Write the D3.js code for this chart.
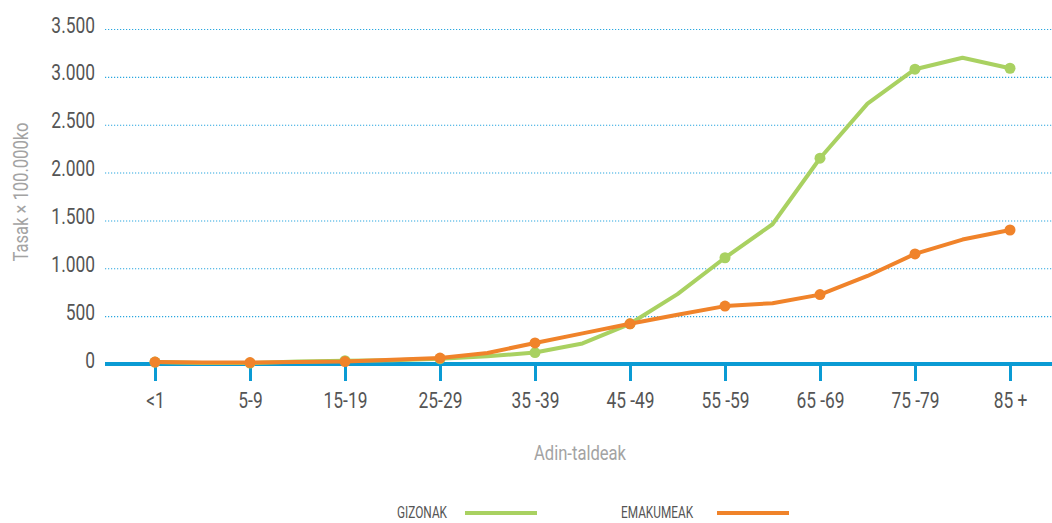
<!DOCTYPE html>
<html>
<head>
<meta charset="utf-8">
<script src="https://cdn.jsdelivr.net/npm/d3@7"></script>
<style>
  html, body { margin: 0; padding: 0; background: #fff; }
  svg { display: block; }
  text { font-family: Roboto, "Liberation Sans", sans-serif; }
</style>
</head>
<body>
<svg id="chart" width="1052" height="523"></svg>
<script>
// Age groups (every other one is labelled on the axis)
const ageGroups = ["<1", "1-4", "5-9", "10-14", "15-19", "20-24", "25-29", "30-34", "35-39", "40-44",
                   "45-49", "50-54", "55-59", "60-64", "65-69", "70-74", "75-79", "80-84", "85 +"];
const tickLabels = ["<1", "5-9", "15-19", "25-29", "35 -39", "45 -49", "55 -59", "65 -69", "75 -79", "85 +"];
// Rates per 100,000
const gizonak   = [20, 10, 10, 25, 35, 40, 55, 80, 120, 215, 420, 730, 1110, 1460, 2150, 2720, 3080, 3200, 3090];
const emakumeak = [20, 15, 15, 20, 25, 45, 62, 115, 220, 320, 420, 515, 605, 635, 725, 920, 1150, 1300, 1400];
const yTicks = [0, 500, 1000, 1500, 2000, 2500, 3000, 3500];

const svg = d3.select("#chart");
const plotL = 105, plotR = 1052, plotT = 29, plotB = 364;
const narrow = 0.79;   // horizontal squeeze for a condensed look
const tickColor = "#555", titleColor = "#a3a3a3";

const x = d3.scalePoint().domain(ageGroups).range([155, 1010]);
const y = d3.scaleLinear().domain([0, 3500]).range([plotB, plotT]);

const fmt = d3.formatLocale({ decimal: ",", thousands: ".", grouping: [3], currency: ["", "€"] }).format(",d");

// Horizontal dotted grid + y tick labels
const yAxis = d3.axisLeft(y).tickValues(yTicks).tickFormat(fmt).tickSize(-(plotR - plotL));
const gy = svg.append("g").attr("transform", `translate(${plotL},0)`).call(yAxis);
gy.select(".domain").remove();
gy.selectAll(".tick line")
  .attr("stroke", "#2aa7df").attr("stroke-width", 1.1).attr("stroke-dasharray", "1.2,1.8");
gy.selectAll(".tick text")
  .attr("x", 0).attr("y", 0).attr("dy", null)
  .attr("transform", `translate(-10,3) scale(${narrow},1)`)
  .attr("fill", tickColor).style("font-size", "22px");

// Series lines
const colGiz = "#a9d161", colEma = "#f0832a";
const line = d3.line().x((d, i) => x(ageGroups[i])).y(d => y(d));

// Baseline
svg.append("line").attr("x1", plotL).attr("x2", plotR).attr("y1", plotB).attr("y2", plotB)
  .attr("stroke", "#0a9bd4").attr("stroke-width", 4);

// x axis ticks and labels
const labelled = ageGroups.filter((d, i) => i % 2 === 0);
const xAxis = d3.axisBottom(x).tickValues(labelled)
  .tickFormat((d, i) => tickLabels[i]).tickSize(17);
const gx = svg.append("g").attr("transform", `translate(0,${plotB})`).call(xAxis);
gx.select(".domain").remove();
gx.selectAll(".tick line").attr("stroke", "#0a9bd4").attr("stroke-width", 3);
gx.selectAll(".tick text")
  .attr("y", 0).attr("dy", null)
  .attr("transform", `translate(0,44) scale(${narrow},1)`)
  .attr("fill", tickColor).style("font-size", "22px");

function drawSeries(values, color) {
  svg.append("path").datum(values)
    .attr("d", line).attr("fill", "none")
    .attr("stroke", color).attr("stroke-width", 4).attr("stroke-linejoin", "round");
  svg.append("g").selectAll("circle")
    .data(values.map((v, i) => ({ v, i })).filter(d => d.i % 2 === 0))
    .join("circle")
    .attr("cx", d => x(ageGroups[d.i])).attr("cy", d => y(d.v)).attr("r", 5.5)
    .attr("fill", color);
}
drawSeries(gizonak, colGiz);
drawSeries(emakumeak, colEma);

// Axis titles
svg.append("text").attr("transform", `translate(28,192) rotate(-90) scale(${narrow},1)`)
  .attr("text-anchor", "middle").attr("fill", titleColor).style("font-size", "21px")
  .text("Tasak × 100.000ko");
svg.append("text").attr("transform", `translate(580,460) scale(${narrow},1)`)
  .attr("text-anchor", "middle").attr("fill", titleColor).style("font-size", "21px")
  .text("Adin-taldeak");

// Legend
const legend = [
  { name: "GIZONAK", color: colGiz, tx: 397, lx: 465 },
  { name: "EMAKUMEAK", color: colEma, tx: 621, lx: 717 }
];
const lg = svg.append("g");
lg.selectAll("text").data(legend).join("text")
  .attr("transform", d => `translate(${d.tx},518) scale(0.74,1)`)
  .attr("fill", tickColor).style("font-size", "16px")
  .text(d => d.name);
lg.selectAll("line").data(legend).join("line")
  .attr("x1", d => d.lx).attr("x2", d => d.lx + 72).attr("y1", 513).attr("y2", 513)
  .attr("stroke", d => d.color).attr("stroke-width", 4);
</script>
</body>
</html>
